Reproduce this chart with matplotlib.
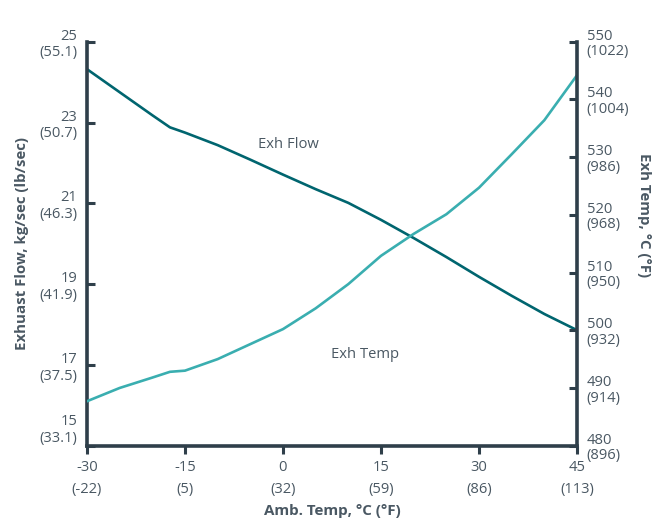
import numpy as np
import matplotlib.pyplot as plt

plt.rcParams['font.family'] = ['Open Sans', 'DejaVu Sans']

# data
amb_temp = [-30, -25, -20, -17.3, -15, -10, -5, 0, 5, 10, 15, 20, 25, 30, 35, 40, 45]
exh_flow = [24.32, 23.75, 23.18, 22.88, 22.75, 22.44, 22.08, 21.71, 21.35, 21.01,
            20.59, 20.14, 19.67, 19.18, 18.71, 18.26, 17.86]
exh_temp = [487.7, 490.0, 491.8, 492.8, 493.0, 495.0, 497.6, 500.2, 503.8, 508.0,
            512.9, 516.7, 520.1, 524.7, 530.5, 536.4, 544.2]

x_ticks = [-30, -15, 0, 15, 30, 45]
x_labels = ['-30\n(-22)', '-15\n(5)', '0\n(32)', '15\n(59)', '30\n(86)', '45\n(113)']
flow_ticks = [15, 17, 19, 21, 23, 25]
flow_labels = ['15\n(33.1)', '17\n(37.5)', '19\n(41.9)', '21\n(46.3)', '23\n(50.7)', '25\n(55.1)']
temp_ticks = [480, 490, 500, 510, 520, 530, 540, 550]
temp_labels = ['480\n(896)', '490\n(914)', '500\n(932)', '510\n(950)',
               '520\n(968)', '530\n(986)', '540\n(1004)', '550\n(1022)']

axis_col = '#2f3f4a'
text_col = '#4a5863'
flow_col = '#00656f'
temp_col = '#3aaeb0'

fig = plt.figure(figsize=(6.65, 5.26), dpi=100)
ax = fig.add_axes([0.1308, 0.1527, 0.7369, 0.768])
ax2 = ax.twinx()

ax.plot(amb_temp, exh_flow, color=flow_col, lw=1.9)
ax2.plot(amb_temp, exh_temp, color=temp_col, lw=1.9)

ax.set_xlim(-30, 45)
ax.set_ylim(15, 25)
ax2.set_ylim(480, 550)

for a in (ax, ax2):
    a.spines['top'].set_visible(False)
    for s in ('left', 'right', 'bottom'):
        a.spines[s].set_color(axis_col)
        a.spines[s].set_linewidth(2.6)

ax.spines['right'].set_visible(False)
ax2.spines['left'].set_visible(False)
ax2.spines['bottom'].set_visible(False)

ax.set_xticks(x_ticks)
ax.set_xticklabels(x_labels, linespacing=1.7)
ax.tick_params(axis='x', direction='out', length=6, width=2.2, color=axis_col,
               labelsize=10.6, labelcolor=text_col, pad=4)

ax.set_yticks(flow_ticks)
ax.set_yticklabels(flow_labels, linespacing=1.15)
ax.tick_params(axis='y', direction='in', length=6, width=2.2, color=axis_col,
               labelsize=10.6, labelcolor=text_col, pad=7)
ax.get_yticklabels()[0].set_verticalalignment('bottom')

ax2.set_yticks(temp_ticks)
ax2.set_yticklabels(temp_labels, linespacing=1.05)
ax2.tick_params(axis='y', direction='in', length=6, width=2.2, color=axis_col,
                labelsize=10.6, labelcolor=text_col, pad=7)

ax.set_xlabel('Amb. Temp, \u00b0C (\u00b0F)', fontsize=10.9, fontweight='bold',
              color=text_col, labelpad=5)
ax.set_ylabel('Exhuast Flow, kg/sec (lb/sec)', fontsize=10.8, fontweight='bold',
              color=text_col, labelpad=7)
ax2.set_ylabel('Exh Temp, \u00b0C (\u00b0F)', fontsize=10.8, fontweight='bold',
               color=text_col, rotation=270, labelpad=16)
ax2.yaxis.set_label_coords(1.15, 0.57)

ax.text(0.8, 22.45, 'Exh Flow', fontsize=10.6, color=text_col, ha='center', va='center')
ax.text(12.5, 17.25, 'Exh Temp', fontsize=10.6, color=text_col, ha='center', va='center')

fig.savefig('out.png', dpi=100)
